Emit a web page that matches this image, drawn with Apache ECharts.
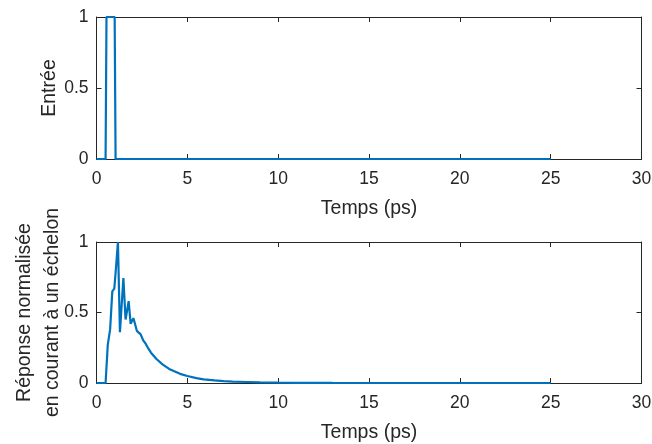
<!DOCTYPE html>
<html>
<head>
<meta charset="utf-8">
<script src="https://cdn.jsdelivr.net/npm/echarts@6/dist/echarts.min.js"></script>
<style>html,body{margin:0;padding:0;background:#fff}#c{width:652px;height:444px}</style>
</head>
<body>
<div id="c"></div>
<script>
// Input pulse (top panel)
const tIn = [0, 0.5, 0.55, 1.0, 1.05, 25];
const vIn = [0, 0, 1, 1, 0, 0];
// Normalized response (bottom panel)
const tOut = [0, 0.5, 0.62, 0.75, 0.87, 0.98, 1.05, 1.18, 1.29, 1.48, 1.6, 1.77, 1.88, 2.03, 2.14, 2.22, 2.3, 2.43, 2.58, 2.7, 2.85, 3.0, 3.3, 3.65, 4.0, 4.25, 4.6, 5.0, 5.5, 5.9, 6.5, 7.0, 7.5, 8.3, 9.0, 10.0, 11.0, 13.0, 25.0];
const vOut = [0, 0, 0.27, 0.38, 0.65, 0.67, 0.78, 1.0, 0.36, 0.745, 0.45, 0.58, 0.42, 0.46, 0.41, 0.37, 0.36, 0.345, 0.30, 0.28, 0.245, 0.215, 0.17, 0.13, 0.10, 0.085, 0.065, 0.05, 0.035, 0.026, 0.018, 0.013, 0.01, 0.007, 0.004, 0.002, 0.001, 0.0005, 0];
const xTicks = [0, 5, 10, 15, 20, 25, 30];
const yTicks = [0, 0.5, 1];
const xTitle = 'Temps (ps)';
const yTitleTop = 'Entrée';
const yTitleBottom = 'Réponse normalisée\nen courant à un échelon';

const txt = '#262626';
const font = 'Liberation Sans, Arial, Helvetica, sans-serif';
const axLine = {show: true, onZero: false, lineStyle: {color: '#262626', width: 1}};
const tick = {show: true, inside: true, length: 5, lineStyle: {color: '#262626', width: 1}};

function xAx(grid, pos, labels) {
  return {
    type: 'value', gridIndex: grid, position: pos, min: xTicks[0], max: xTicks[xTicks.length - 1], interval: xTicks[1] - xTicks[0],
    axisLine: axLine, axisTick: tick, splitLine: {show: false},
    axisLabel: {show: labels, color: txt, fontSize: 17.5, fontFamily: font, margin: 11},
    name: labels ? xTitle : '', nameLocation: 'middle', nameGap: 40, nameMoveOverlap: false,
    nameTextStyle: {color: txt, fontSize: 19.5, fontFamily: font}
  };
}
function yAx(grid, pos, labels, title, gap, lh) {
  return {
    type: 'value', gridIndex: grid, position: pos, min: yTicks[0], max: yTicks[yTicks.length - 1], interval: yTicks[1] - yTicks[0],
    axisLine: axLine, axisTick: tick, splitLine: {show: false},
    axisLabel: {show: labels, color: txt, fontSize: 17.5, fontFamily: font, margin: 8,
      formatter: v => String(v)},
    name: labels ? title : '', nameLocation: 'middle', nameGap: gap, nameMoveOverlap: false,
    nameTextStyle: {color: txt, fontSize: 19.5, fontFamily: font, lineHeight: lh}
  };
}

const chart = echarts.init(document.getElementById('c'), null, {renderer: 'canvas'});
chart.setOption({
  animation: false,
  backgroundColor: '#fff',
  grid: [
    {left: 96.5, right: 10.5, top: 17, height: 142, containLabel: false, outerBoundsMode: 'none'},
    {left: 96.5, right: 10.5, top: 242, height: 141, containLabel: false, outerBoundsMode: 'none'}
  ],
  xAxis: [xAx(0, 'bottom', true), xAx(0, 'top', false), xAx(1, 'bottom', true), xAx(1, 'top', false)],
  yAxis: [yAx(0, 'left', true, yTitleTop, 36, 22), yAx(0, 'right', false, '', 0, 22),
          yAx(1, 'left', true, yTitleBottom, 30, 28), yAx(1, 'right', false, '', 0, 22)],
  series: [
    {type: 'line', xAxisIndex: 0, yAxisIndex: 0, showSymbol: false, symbol: 'none',
     lineStyle: {color: '#0072BD', width: 2.2}, data: tIn.map((t, i) => [t, vIn[i]])},
    {type: 'line', xAxisIndex: 2, yAxisIndex: 2, showSymbol: false, symbol: 'none',
     lineStyle: {color: '#0072BD', width: 2.2}, data: tOut.map((t, i) => [t, vOut[i]])}
  ]
});
</script>
</body>
</html>
